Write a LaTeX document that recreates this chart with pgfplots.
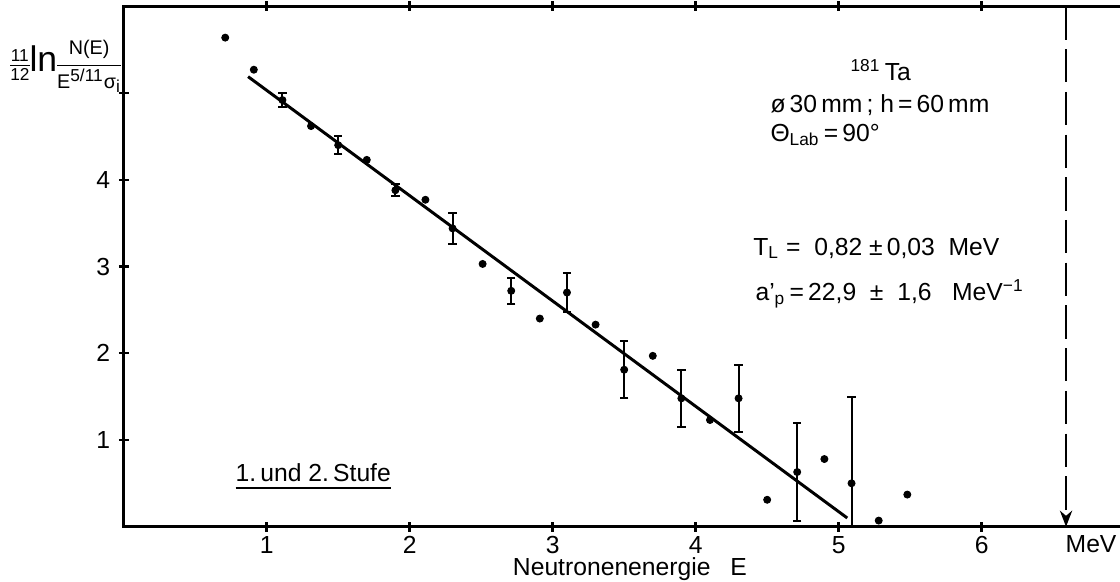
\documentclass[border=0pt]{standalone}
\usepackage{fontspec}
\setmainfont{Liberation Sans}
\usepackage{amsmath}
\usepackage{pgfplots}
\usepackage{pgfplotstable}
\pgfplotsset{compat=1.18}
\usetikzlibrary{arrows.meta}
\newcommand{\myul}[1]{\leavevmode\setbox0\hbox{#1}\rlap{\rule[-3.2pt]{\wd0}{0.9pt}}\box0}

\pgfplotstableread{
x y ep em
1.11 4.92 0.08 0.08
1.50 4.40 0.10 0.10
1.90 3.88 0.07 0.07
2.30 3.44 0.18 0.18
2.71 2.72 0.15 0.15
3.10 2.70 0.22 0.22
3.50 1.81 0.33 0.33
3.90 1.48 0.33 0.33
4.30 1.48 0.39 0.39
4.71 0.63 0.57 0.56
5.09 0.50 0.99 0.50
}\witherr

\pgfplotstableread{
x y
0.71 5.64
0.91 5.27
1.31 4.62
1.70 4.23
2.11 3.77
2.51 3.03
2.91 2.40
3.30 2.33
3.70 1.97
4.10 1.23
4.50 0.31
4.90 0.78
5.28 0.07
5.48 0.37
}\noerr

\begin{document}
\begin{tikzpicture}
\begin{axis}[
  scale only axis, width=405.4pt, height=210.7pt,
  xmin=0, xmax=7, ymin=0, ymax=6,
  xtick={1,...,6}, ytick={1,...,5}, yticklabels={1,2,3,4,{}},
  tick align=center, major tick length=4pt,
  axis line style={line width=1.2pt},
  tick style={line width=1pt, black},
  clip=false,
  /pgf/number format/assume math mode=true,
  ticklabel style={font=\normalsize},
  xticklabel style={yshift=1.5pt},
]
\addplot[only marks, mark=*, mark size=1.4pt, black] table[x=x,y=y] {\noerr};
\addplot[only marks, mark=*, mark size=1.4pt, black,
  error bars/.cd, y dir=both, y explicit, error mark=-,
  error bar style={line width=0.8pt, black},
  error mark options={rotate=90, line width=0.8pt, mark size=1.7pt, black}]
  table[x=x, y=y, y error plus=ep, y error minus=em] {\witherr};
\addplot[black, line width=1.2pt] coordinates {(0.87,5.19) (5.06,0.10)};
\addplot[black, line width=0.8pt, dash pattern=on 13.5pt off 3.8pt,
  -{Stealth[length=6.5pt,width=5pt]}] coordinates {(6.59,6) (6.59,0)};

\begin{scope}[every node/.style={inner sep=0pt, anchor=base west}]
\node at (axis cs:5.08,5.15) {\textsuperscript{181}\,Ta};
\node at (axis cs:4.52,4.78) {ø\,30\,mm\,;\ h\,=\,60\,mm};
\node at (axis cs:4.52,4.44) {Θ\textsubscript{Lab}\,=\,90°};
\node at (axis cs:4.40,3.13) {T\textsubscript{L}\ = \ 0,82\ ±\,0,03\ \ MeV};
\node at (axis cs:4.415,2.61) {a'\textsubscript{p}\,=\,22,9\ \ ±\ \ 1,6\ \ \ MeV\textsuperscript{−1}};
\node at (axis cs:0.78,0.52) {\myul{1.\,und\ 2.\,Stufe}};
\end{scope}
\node[inner sep=0pt, anchor=east] at (axis description cs:-0.002,0.884)
  {\nulldelimiterspace=0pt$\frac{\text{\scriptsize 11}}{\text{\scriptsize 12}}\text{\Large ln}\dfrac{\text{\footnotesize N(E)}}{\text{\footnotesize E}^{\text{\scriptsize 5/11}}\text{\footnotesize σ}_{\text{\scriptsize i}}}$};
\node[inner sep=0pt, anchor=base] at (axis cs:3.54,-0.565) {Neutronenenergie\hspace{8pt}E};
\node[inner sep=0pt, anchor=base east] at (axis cs:6.946,-0.30) {MeV};
\end{axis}
\pgfresetboundingbox
\path (-50.1pt,-22.4pt) rectangle (403.5pt,213.3pt);
\end{tikzpicture}
\end{document}
